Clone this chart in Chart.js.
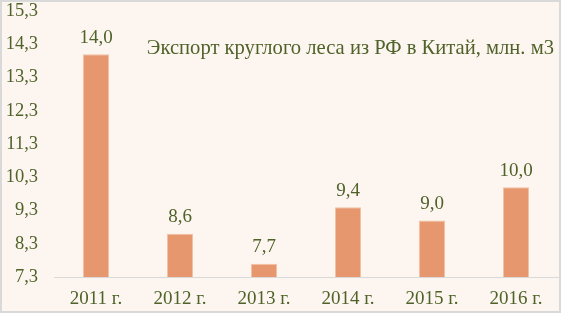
<!DOCTYPE html>
<html>
<head>
<meta charset="utf-8">
<script src="https://cdn.jsdelivr.net/npm/chart.js@4"></script>
<style>
    html, body { margin: 0; padding: 0; background: #ffffff; }
    .chart-card {
        position: relative;
        width: 557px;
        height: 309px;
        border: 2px solid #d9d9d9;
        background: #fdf5f0;
    }
</style>
</head>
<body>
<div class="chart-card">
    <canvas id="exportChart" width="557" height="309"></canvas>
</div>
<script>
// ===========================
// Data
// ===========================

const years = ['2011 г.', '2012 г.', '2013 г.', '2014 г.', '2015 г.', '2016 г.'];
const volumes = [14.0, 8.6, 7.7, 9.4, 9.0, 10.0];
const chartTitle = 'Экспорт круглого леса из РФ в Китай, млн. м3';
const axisMin = 7.3;
const axisMax = 15.3;
const axisStep = 1;

const textColor = '#4f6228';
const barColor = '#e6976e';
const fontFamily = '"Liberation Serif", "DejaVu Serif", serif';

function formatComma(v) {
    return v.toFixed(1).replace('.', ',');
}

// ===========================
// Plugins
// ===========================

const valueLabels = {
    id: 'valueLabels',
    afterDatasetsDraw(chart) {
        const ctx = chart.ctx;
        const meta = chart.getDatasetMeta(0);
        ctx.save();
        ctx.font = '19px ' + fontFamily;
        ctx.fillStyle = textColor;
        ctx.textAlign = 'center';
        ctx.textBaseline = 'bottom';
        meta.data.forEach((bar, i) => {
            ctx.fillText(formatComma(volumes[i]), bar.x, bar.y - 7);
        });
        ctx.restore();
    }
};

const innerTitle = {
    id: 'innerTitle',
    afterDraw(chart) {
        const ctx = chart.ctx;
        const area = chart.chartArea;
        ctx.save();
        ctx.font = '20.6px ' + fontFamily;
        ctx.fillStyle = textColor;
        ctx.textAlign = 'right';
        ctx.textBaseline = 'middle';
        ctx.fillText(chartTitle, area.right - 4, area.top + 38);
        ctx.restore();
    }
};

// ===========================
// Chart
// ===========================

new Chart(document.getElementById('exportChart'), {
    type: 'bar',
    data: {
        labels: years,
        datasets: [{
            data: volumes,
            backgroundColor: barColor,
            borderColor: '#f3c2a4',
            borderWidth: 1,
            barPercentage: 0.31,
            categoryPercentage: 1
        }]
    },
    options: {
        responsive: false,
        animation: false,
        layout: {
            padding: { top: 9, right: 1, bottom: 1, left: 2 }
        },
        plugins: {
            legend: { display: false },
            tooltip: { enabled: false }
        },
        scales: {
            y: {
                min: axisMin,
                max: axisMax,
                ticks: {
                    stepSize: axisStep,
                    color: textColor,
                    font: { family: fontFamily, size: 18.5 },
                    padding: 16,
                    callback: function(value) {
                        return formatComma(value);
                    }
                },
                grid: { display: false, drawTicks: false },
                border: { display: false },
                afterFit: function(scale) {
                    scale.width = 50;
                    scale.paddingTop = 0;
                    scale.paddingBottom = 0;
                }
            },
            x: {
                ticks: {
                    color: textColor,
                    font: { family: fontFamily, size: 19 },
                    padding: 11
                },
                grid: { display: false, drawTicks: false },
                border: { display: true, color: '#d9d9d9', width: 1 },
                afterFit: function(scale) {
                    scale.height = 33;
                    scale.paddingLeft = 0;
                    scale.paddingRight = 0;
                }
            }
        }
    },
    plugins: [valueLabels, innerTitle]
});
</script>
</body>
</html>
